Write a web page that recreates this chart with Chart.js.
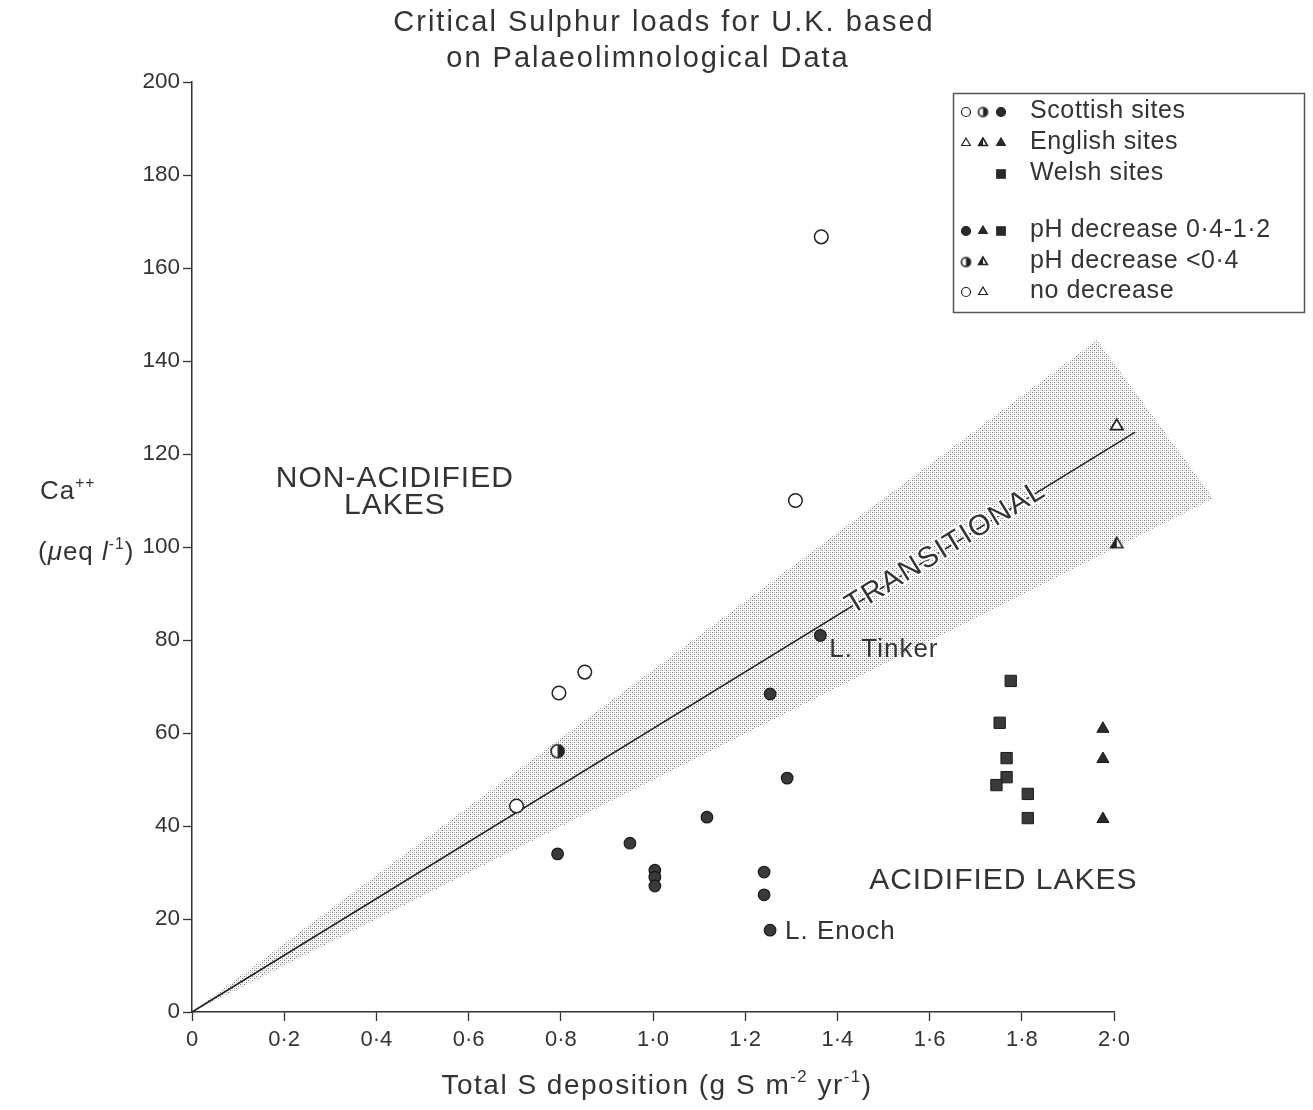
<!DOCTYPE html>
<html lang="en">
<head>
<meta charset="UTF-8">
<title>Critical Sulphur loads for U.K.</title>
<script src="https://cdn.jsdelivr.net/npm/chart.js"></script>
<style>
  body { margin: 0; background: #fff; }
  canvas { display: block; }
</style>
</head>
<body>
<canvas id="chart" width="1313" height="1110"></canvas>
<script>
// Scottish sites
const scotNoDecX = [1.365, 1.309, 0.852, 0.796, 0.704];
const scotNoDecY = [166.7, 110.0, 73.1, 68.6, 44.3];
const scotSmallX = [0.793];
const scotSmallY = [56.1];
const scotDecX = [0.793, 0.950, 1.004, 1.004, 1.004, 1.117, 1.254, 1.291, 1.241, 1.241, 1.254, 1.363];
const scotDecY = [34.0, 36.3, 30.5, 29.0, 27.1, 41.9, 68.4, 50.3, 30.1, 25.2, 17.6, 81.0];
// English sites
const engNoDecX = [2.006];
const engNoDecY = [126.0];
const engSmallX = [2.006];
const engSmallY = [100.6];
const engDecX = [1.976, 1.976, 1.976];
const engDecY = [60.9, 54.4, 41.5];
// Welsh sites
const walesDecX = [1.776, 1.752, 1.767, 1.767, 1.745, 1.813, 1.813];
const walesDecY = [71.2, 62.2, 54.6, 50.5, 48.8, 46.9, 41.7];
// critical load line and transitional band
const lineX = [0, 2.046];
const lineY = [0, 124.7];
const bandX = [0, 1.963, 2.215];
const bandY = [0, 144.5, 110.5];

const xTicks = [0, 0.2, 0.4, 0.6, 0.8, 1.0, 1.2, 1.4, 1.6, 1.8, 2.0];

const ink = '#333';
const FONT = '"Liberation Sans", Arial, sans-serif';

const pts = (xs, ys) => xs.map((v, i) => ({ x: v, y: ys[i] }));

function halfCircle(r) {
  const s = Math.ceil(r * 2 + 4), c = document.createElement('canvas');
  c.width = c.height = s;
  const g = c.getContext('2d'), m = s / 2;
  g.beginPath(); g.arc(m, m, r, 0, Math.PI * 2); g.fillStyle = '#fff'; g.fill();
  g.beginPath(); g.moveTo(m, m - r); g.arc(m, m, r, -Math.PI / 2, Math.PI / 2); g.closePath();
  g.fillStyle = '#222'; g.fill();
  g.beginPath(); g.arc(m, m, r, 0, Math.PI * 2); g.lineWidth = 1.6; g.strokeStyle = '#222'; g.stroke();
  return c;
}

function halfTriangle(r) {
  const s = Math.ceil(r * 2 + 4), c = document.createElement('canvas');
  c.width = c.height = s;
  const g = c.getContext('2d'), m = s / 2;
  const top = [m, m - r], bl = [m - r * 0.87, m + r * 0.5], br = [m + r * 0.87, m + r * 0.5];
  g.beginPath(); g.moveTo(...top); g.lineTo(...bl); g.lineTo(...br); g.closePath();
  g.fillStyle = '#fff'; g.fill();
  g.beginPath(); g.moveTo(...top); g.lineTo(...bl); g.lineTo(m, m + r * 0.5); g.closePath();
  g.fillStyle = '#222'; g.fill();
  g.beginPath(); g.moveTo(...top); g.lineTo(...bl); g.lineTo(...br); g.closePath();
  g.lineWidth = 1.6; g.strokeStyle = '#222'; g.stroke();
  return c;
}

function stipple() {
  const c = document.createElement('canvas');
  c.width = c.height = 4;
  const g = c.getContext('2d');
  g.fillStyle = '#777'; g.fillRect(0, 0, 1, 1); g.fillRect(2, 2, 1, 1);
  g.fillStyle = '#c4c4c4'; g.fillRect(2, 0, 1, 1); g.fillRect(0, 2, 1, 1);
  return c;
}

// text with superscripts / italics: parts = [[text, 'sup'|'i'|'']]
function rich(ctx, parts, x, y, size, align) {
  const fontOf = p => (p[1] === 'i' ? 'italic ' : '') + (p[1] === 'sup' ? size * 0.6 : size) + 'px ' + FONT;
  let w = 0;
  parts.forEach(p => { ctx.font = fontOf(p); w += ctx.measureText(p[0]).width; });
  let cx = align === 'center' ? x - w / 2 : x;
  ctx.textAlign = 'left';
  ctx.textBaseline = 'alphabetic';
  parts.forEach(p => {
    ctx.font = fontOf(p);
    ctx.fillText(p[0], cx, p[1] === 'sup' ? y - size * 0.42 : y);
    cx += ctx.measureText(p[0]).width;
  });
}

const bandPlugin = {
  id: 'band',
  beforeDatasetsDraw(chart) {
    const { ctx, scales: { x, y } } = chart;
    ctx.save();
    ctx.beginPath();
    bandX.forEach((v, i) => {
      const px = x.getPixelForValue(v), py = y.getPixelForValue(bandY[i]);
      i ? ctx.lineTo(px, py) : ctx.moveTo(px, py);
    });
    ctx.closePath();
    ctx.fillStyle = ctx.createPattern(stipple(), 'repeat');
    ctx.fill();
    ctx.restore();
  }
};

const legendRows = [
  { y: 111, marks: [['oc', 966], ['hc', 983], ['fc', 1001]], text: 'Scottish sites' },
  { y: 142, marks: [['ot', 966], ['ht', 983], ['ft', 1001]], text: 'English sites' },
  { y: 173, marks: [['sq', 1001]], text: 'Welsh sites' },
  { y: 230, marks: [['fc', 966], ['ft', 983], ['sq', 1001]], text: 'pH decrease 0·4-1·2' },
  { y: 261, marks: [['hc', 966], ['ht', 983]], text: 'pH decrease <0·4' },
  { y: 291, marks: [['oc', 966], ['ot', 983]], text: 'no decrease' }
];

function legendMark(ctx, kind, x, y) {
  const H = Chart.helpers;
  ctx.save();
  ctx.strokeStyle = '#222';
  ctx.lineWidth = 1.2;
  ctx.fillStyle = kind[0] === 'o' ? '#fff' : '#2a2a2a';
  const styles = {
    oc: ['circle', 4.5], fc: ['circle', 4.5], ot: ['triangle', 5], ft: ['triangle', 5],
    sq: ['rect', 6], hc: [halfCircle(4.5), 4.5], ht: [halfTriangle(5), 5]
  };
  const [ps, r] = styles[kind];
  H.drawPoint(ctx, { pointStyle: ps, radius: r, rotation: 0, borderWidth: 1.2 }, x, y);
  ctx.restore();
}

const textPlugin = {
  id: 'texts',
  afterDraw(chart) {
    const { ctx, scales: { x, y } } = chart;
    ctx.save();
    ctx.fillStyle = ink;
    // title
    ctx.font = '29px ' + FONT;
    ctx.letterSpacing = '2px';
    ctx.textAlign = 'center';
    ctx.textBaseline = 'alphabetic';
    ctx.fillText('Critical Sulphur loads for U.K. based', 664, 31);
    ctx.fillText('on Palaeolimnological Data', 648, 67);
    // axis titles
    ctx.letterSpacing = '1.5px';
    rich(ctx, [['Total S deposition (g S m', ''], ['-2', 'sup'], [' yr', ''], ['-1', 'sup'], [')', '']], 657, 1094, 28, 'center');
    ctx.letterSpacing = '1px';
    rich(ctx, [['Ca', ''], ['++', 'sup']], 40, 499, 26, 'left');
    rich(ctx, [['(', ''], ['μ', 'i'], ['eq', ''], [' l', 'i'], ['-1', 'sup'], [')', '']], 38, 560, 26, 'left');
    // region labels
    ctx.font = '30px ' + FONT;
    ctx.letterSpacing = '1px';
    ctx.textAlign = 'center';
    ctx.fillText('NON-ACIDIFIED', x.getPixelForValue(0.44), y.getPixelForValue(113));
    ctx.fillText('LAKES', x.getPixelForValue(0.44), y.getPixelForValue(107.2));
    ctx.fillText('ACIDIFIED LAKES', x.getPixelForValue(1.76), y.getPixelForValue(26.4));
    // site labels
    ctx.font = '26px ' + FONT;
    ctx.textAlign = 'left';
    ctx.fillText('L. Tinker', x.getPixelForValue(1.363) + 9, y.getPixelForValue(81) + 22);
    ctx.fillText('L. Enoch', x.getPixelForValue(1.254) + 15, y.getPixelForValue(17.6) + 9);
    // transitional label along the line
    const ang = Math.atan2(y.getPixelForValue(lineY[1]) - y.getPixelForValue(lineY[0]),
                           x.getPixelForValue(lineX[1]) - x.getPixelForValue(lineX[0]));
    ctx.translate(x.getPixelForValue(1.635), y.getPixelForValue(99.8));
    ctx.rotate(ang);
    ctx.font = '29px ' + FONT;
    ctx.letterSpacing = '1.5px';
    ctx.textAlign = 'center';
    ctx.textBaseline = 'middle';
    ctx.lineWidth = 4;
    ctx.strokeStyle = '#fff';
    ctx.strokeText('TRANSITIONAL', 0, 0);
    ctx.fillText('TRANSITIONAL', 0, 0);
    ctx.setTransform(1, 0, 0, 1, 0, 0);
    // legend box
    ctx.strokeStyle = '#555';
    ctx.lineWidth = 1.5;
    ctx.strokeRect(953.5, 93.5, 351, 219);
    ctx.font = '25px ' + FONT;
    ctx.letterSpacing = '0.6px';
    ctx.textAlign = 'left';
    ctx.textBaseline = 'middle';
    legendRows.forEach(r => {
      r.marks.forEach(m => legendMark(ctx, m[0], m[1], r.y + 1));
      ctx.fillStyle = ink;
      ctx.fillText(r.text, 1030, r.y);
    });
    ctx.restore();
  }
};

const axisBase = {
  grid: { drawOnChartArea: false, drawTicks: true, tickLength: 9, tickColor: ink, tickWidth: 1.3 },
  border: { color: ink, width: 1.5 }
};

new Chart(document.getElementById('chart'), {
  type: 'scatter',
  data: {
    datasets: [
      { data: pts(scotNoDecX, scotNoDecY), pointStyle: 'circle', pointRadius: 6.8, backgroundColor: '#fff', borderColor: '#222', borderWidth: 1.5, clip: false },
      { data: pts(scotSmallX, scotSmallY), pointStyle: halfCircle(6.5), pointRadius: 6.5, clip: false },
      { data: pts(scotDecX, scotDecY), pointStyle: 'circle', pointRadius: 5.8, backgroundColor: '#3a3a3a', borderColor: '#1a1a1a', borderWidth: 1.2, clip: false },
      { data: pts(engNoDecX, engNoDecY), pointStyle: 'triangle', pointRadius: 7, backgroundColor: '#fff', borderColor: '#222', borderWidth: 1.8, clip: false },
      { data: pts(engSmallX, engSmallY), pointStyle: halfTriangle(7), pointRadius: 7, clip: false },
      { data: pts(engDecX, engDecY), pointStyle: 'triangle', pointRadius: 7, backgroundColor: '#2a2a2a', borderColor: '#1a1a1a', borderWidth: 1, clip: false },
      { data: pts(walesDecX, walesDecY), pointStyle: 'rect', pointRadius: 8, backgroundColor: '#3a3a3a', borderColor: '#1a1a1a', borderWidth: 1, clip: false },
      { data: pts(lineX, lineY), showLine: true, pointRadius: 0, borderColor: '#222', borderWidth: 1.5, clip: false }
    ]
  },
  options: {
    responsive: false,
    animation: false,
    layout: { padding: { left: 0, right: 199, top: 82, bottom: 0 } },
    plugins: { legend: { display: false }, tooltip: { enabled: false } },
    scales: {
      x: {
        ...axisBase,
        min: 0, max: 2,
        afterFit: s => { s.height = 98; },
        afterBuildTicks: s => { s.ticks = xTicks.map(v => ({ value: v })); },
        ticks: {
          autoSkip: false, maxRotation: 0, padding: 6, color: ink,
          font: { family: FONT, size: 22 },
          callback: v => v === 0 ? '0' : v.toFixed(1).replace('.', '·')
        }
      },
      y: {
        ...axisBase,
        min: 0, max: 200,
        afterFit: s => { s.width = 192; },
        ticks: { stepSize: 20, padding: 3, color: ink, font: { family: FONT, size: 22.5 } }
      }
    }
  },
  plugins: [bandPlugin, textPlugin]
});
</script>
</body>
</html>
